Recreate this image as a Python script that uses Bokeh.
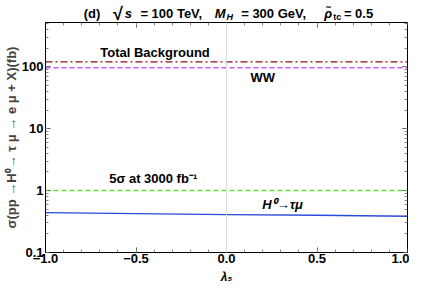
from bokeh.plotting import figure
from bokeh.layouts import column
from bokeh.models import (FixedTicker, LinearAxis, LogAxis, Label, Span, Range1d)
from bokeh.embed import file_html
from bokeh.resources import INLINE

# ---- data ----
lambda5 = [-1.0, -0.5, 0.0, 0.5, 1.0]
sigma_h0 = [0.44, 0.425, 0.41, 0.40, 0.385]
total_background = 120.0
ww_background = 97.0
five_sigma = 1.0
x_ticks = [-1.0, -0.5, 0.0, 0.5, 1.0]
x_tick_labels = ["\u22121.0", "\u22120.5", "0.0", "0.5", "1.0"]
y_ticks = [0.1, 1, 10, 100]
y_tick_labels = ["0.1", "1", "10", "100"]

FONT = "Liberation Sans"
W = 409
BL, BR = 37, 2
TITLE_H, MAIN_H = 22, 248
XLAB_H = 281 - TITLE_H - MAIN_H
xmin, xmax = -1.0, 1.0
ymin, ymax = 0.1, 520.0

def lab(fig, x, y, text, size="13px", style="bold", align="center", base="middle"):
    fig.add_layout(Label(x=x, y=y, text=text,
                         text_font=FONT, text_font_style=style, text_font_size=size,
                         text_align=align, text_baseline=base, text_color="black"))

def strip(h):
    f = figure(width=W, height=h, output_backend="svg", toolbar_location=None,
               x_range=Range1d(BL, W - BR), y_range=Range1d(0, h),
               x_axis_location=None, y_axis_location=None,
               min_border=0, min_border_left=BL, min_border_right=BR,
               min_border_top=0, min_border_bottom=0)
    f.outline_line_color = None
    f.xgrid.visible = False
    f.ygrid.visible = False
    return f

# ---- title strip (x in canvas pixels) ----
tf = strip(TITLE_H)
tb = 9
lab(tf, 76, tb, "(d)", align="left", base="alphabetic")
lab(tf, 106, tb, "\u221a", align="left", base="alphabetic", size="18px")
lab(tf, 118, tb, "s", align="left", base="alphabetic", style="bold italic")
lab(tf, 134, tb, "= 100 TeV,", align="left", base="alphabetic")
lab(tf, 210, tb, "M", align="left", base="alphabetic", style="bold italic")
lab(tf, 222, tb - 3, "H", align="left", base="alphabetic", style="bold italic", size="9px")
lab(tf, 237, tb, "= 300 GeV,", align="left", base="alphabetic")
lab(tf, 322, tb, "\u03c1\u0303", align="left", base="alphabetic", style="bold italic")
lab(tf, 331, tb - 3, "tc", align="left", base="alphabetic", size="9px")
lab(tf, 342, tb, "= 0.5", align="left", base="alphabetic")

# ---- main plot ----
p = figure(width=W, height=MAIN_H, output_backend="svg", toolbar_location=None,
           x_range=Range1d(xmin, xmax), y_range=Range1d(ymin, ymax), y_axis_type="log",
           x_axis_location=None, y_axis_location=None,
           min_border_left=BL, min_border_right=BR, min_border_top=0, min_border_bottom=18)
p.background_fill_color = "white"
p.border_fill_color = "white"
p.outline_line_color = "black"
p.outline_line_width = 1
p.xgrid.visible = False
p.ygrid.visible = False

x_minor = [round(-1 + 0.1 * i, 2) for i in range(21)]
y_minor = [m * 10.0 ** e for e in range(-1, 3) for m in range(1, 10)]

def style_axis(ax, labels=True, ticks=True):
    ax.axis_line_color = "black"
    ax.major_tick_in = 5 if ticks else 0
    ax.major_tick_out = 0
    ax.minor_tick_in = 3 if ticks else 0
    ax.minor_tick_out = 0
    ax.major_tick_line_color = "#555555" if ticks else None
    ax.minor_tick_line_color = "#888888" if ticks else None
    ax.major_label_text_font = FONT
    ax.major_label_text_font_style = "bold"
    ax.major_label_text_font_size = "13px"
    ax.major_label_text_color = "black"
    ax.major_label_standoff = 2
    if not labels:
        ax.major_label_text_font_size = "1px"
        ax.major_label_text_color = None
        ax.major_label_standoff = 0

xax = LinearAxis(ticker=FixedTicker(ticks=x_ticks, minor_ticks=x_minor),
                 major_label_overrides={t: l for t, l in zip(x_ticks, x_tick_labels)})
style_axis(xax, ticks=False)
xax.major_label_standoff = 1
p.add_layout(xax, "below")

yax = LogAxis(ticker=FixedTicker(ticks=y_ticks, minor_ticks=y_minor),
              major_label_overrides={t: l for t, l in zip(y_ticks, y_tick_labels)})
style_axis(yax, ticks=False)
yax.axis_label = "\u03c3(pp \u2192H\u2070\u2192 \u03c4 \u03bc \u2192 e \u03bc + X)(fb)"
yax.axis_label_text_font = FONT
yax.axis_label_text_font_style = "bold"
yax.axis_label_text_font_size = "13px"
yax.axis_label_standoff = 0
p.add_layout(yax, "left")

for side, cls, tk, mn, fl in [
        ("below", LinearAxis, x_ticks, x_minor, ymin),
        ("above", LinearAxis, x_ticks, x_minor, ymax),
        ("left", LogAxis, y_ticks, y_minor, xmin),
        ("right", LogAxis, y_ticks, y_minor, xmax)]:
    ax = cls(fixed_location=fl, ticker=FixedTicker(ticks=tk, minor_ticks=mn))
    style_axis(ax, labels=False)
    p.add_layout(ax, side)

p.add_layout(Span(location=0, dimension="height", line_color="#dddddd", line_width=1))

p.line([xmin, xmax], [total_background] * 2, line_color="#8b1010", line_width=1.3,
       line_dash="7 3 2 3")
p.line([xmin, xmax], [ww_background] * 2, line_color="#c060f0", line_width=1.5,
       line_dash="5 3")
p.line([xmin, xmax], [five_sigma] * 2, line_color="#66dd33", line_width=1.5,
       line_dash="5 3")
p.line(lambda5, sigma_h0, line_color="#2a4ad8", line_width=1.3)

lab(p, -0.395, 170, "Total Background")
lab(p, 0.2, 66, "WW")
lab(p, -0.405, 1.57, "5\u03c3 at 3000 fb\u207b\u00b9")
lab(p, 0.31, 0.59, "H\u2070\u2192\u03c4\u03bc", style="bold italic")

# ---- x-axis title strip ----
xf = strip(XLAB_H)
lab(xf, 222, XLAB_H / 2.0, "\u03bb\u2085", style="bold italic", size="12px")

layout = column(tf, p, xf, spacing=0)
open("out.html", "w").write(file_html(layout, INLINE))
